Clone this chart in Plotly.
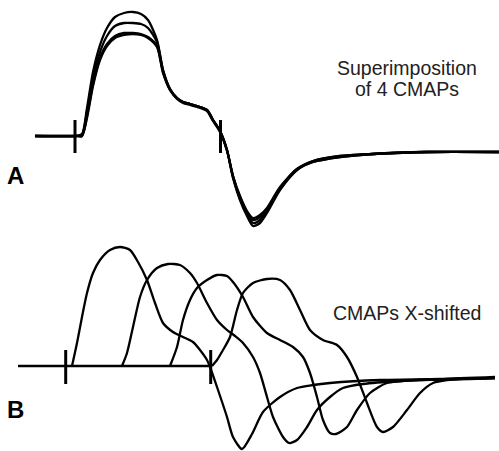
import plotly.graph_objects as go

# ---------------- Panel A: superimposition of 4 CMAPs ----------------
a_time = [35, 76, 82, 87, 93, 100, 107, 115, 124, 133, 141, 148, 157, 163, 170, 177,
          183, 190, 197, 207, 213, 220, 227, 233, 240, 247, 253, 260, 267, 280, 297,
          313, 340, 373, 427, 499]
a_cmap1 = [0, 0, 2, 28, 64, 91, 108, 119, 123, 124, 122, 116, 96, 66, 47, 38, 34, 32, 30, 26,
           16, 5, -14, -42, -64, -80, -90, -87, -77, -54, -34, -26, -21, -18, -16, -16]
a_cmap2 = [0, 0, 1, 24, 58, 84, 100, 110, 113, 113, 112, 108, 94, 66, 47, 38, 34, 32, 30, 26,
           16, 5, -14, -41, -63, -78, -87, -84, -75, -53, -34, -26, -21, -18, -16, -16]
a_cmap3 = [0, 0, 0, 20, 52, 78, 92, 100, 103, 103, 102, 99, 90, 64, 46, 38, 34, 32, 30, 26,
           16, 5, -14, -40, -61, -76, -84, -81, -73, -52, -33, -25, -20, -18, -16, -16]
a_cmap4 = [0, 0, 0, 18, 50, 76, 90, 98, 101, 102, 101, 98, 89, 63, 46, 37, 33, 31, 29, 25,
           15, 4, -15, -40, -60, -75, -82, -79, -72, -51, -33, -25, -20, -18, -16, -16]
a_marks = [75, 220.5]
a_mark_span = [16, -17]

# ---------------- Panel B: CMAPs X-shifted ----------------
b_base_time = [18, 212]
b_base_amp = [0, 0]
b1_time = [72, 77, 82, 87, 93, 100, 110, 120, 130, 138, 147, 155, 163, 173, 183, 193, 200,
           207, 210, 217, 227, 233, 242, 252, 263, 280, 297, 313, 330, 380, 440, 495]
b1_amp = [0, 23, 49, 73, 93, 106, 116, 119, 116, 104, 86, 63, 43, 34, 29, 24, 16, 6, -1, -21,
          -51, -71, -83, -68, -46, -31, -22, -19, -17, -14, -13, -11]
b2_time = [122, 127, 133, 140, 147, 157, 168, 180, 190, 197, 207, 217, 227, 235, 243, 253,
           260, 267, 273, 283, 289, 297, 307, 317, 330, 343, 363, 400, 450, 495]
b2_amp = [0, 13, 39, 69, 86, 98, 102, 101, 93, 83, 63, 46, 36, 30, 23, 9, -7, -31, -51, -71,
          -77, -74, -61, -44, -31, -22, -18, -15, -13, -12]
b3_time = [170, 177, 183, 190, 197, 207, 217, 227, 233, 243, 253, 267, 280, 293, 303, 310,
           317, 323, 330, 336, 347, 357, 370, 387, 420, 460, 495]
b3_amp = [0, 19, 46, 66, 78, 86, 91, 90, 84, 69, 49, 33, 26, 19, 9, -7, -31, -54, -67, -68,
          -61, -44, -27, -17, -14, -13, -12]
b4_time = [212, 217, 223, 230, 237, 243, 253, 267, 280, 290, 300, 310, 323, 337, 347, 357,
           367, 377, 383, 393, 407, 420, 433, 447, 470, 495]
b4_amp = [0, 6, 16, 29, 56, 73, 83, 87, 86, 76, 56, 36, 26, 21, 9, -11, -37, -61, -66, -61,
          -44, -27, -17, -14, -13, -12]
b_marks = [65.7, 210.7]
b_mark_span = [16, -18]

fig = go.Figure()
line = dict(color="black", width=2.3, shape="spline", smoothing=0.7)

for ys in [a_cmap1, a_cmap2, a_cmap3, a_cmap4]:
    fig.add_trace(go.Scatter(x=a_time, y=ys, mode="lines", line=line,
                             xaxis="x", yaxis="y", hoverinfo="skip"))
for xm in a_marks:
    fig.add_trace(go.Scatter(x=[xm, xm], y=a_mark_span, mode="lines",
                             line=dict(color="black", width=3), xaxis="x", yaxis="y"))

fig.add_trace(go.Scatter(x=b_base_time, y=b_base_amp, mode="lines",
                         line=dict(color="black", width=2.3), xaxis="x", yaxis="y2"))
for xs, ys in [(b1_time, b1_amp), (b2_time, b2_amp), (b3_time, b3_amp), (b4_time, b4_amp)]:
    fig.add_trace(go.Scatter(x=xs, y=ys, mode="lines", line=line,
                             xaxis="x", yaxis="y2", hoverinfo="skip"))
for xm in b_marks:
    fig.add_trace(go.Scatter(x=[xm, xm], y=b_mark_span, mode="lines",
                             line=dict(color="black", width=3), xaxis="x", yaxis="y2"))

txt = dict(family="Liberation Sans, Arial, sans-serif", size=19.5, color="#222")
lab = dict(family="Liberation Sans, Arial, sans-serif", size=24, color="black")
fig.add_annotation(x=407, y=68, xref="x", yref="y", text="Superimposition",
                   showarrow=False, font=txt, yanchor="middle")
fig.add_annotation(x=407, y=47, xref="x", yref="y", text="of 4 CMAPs",
                   showarrow=False, font=txt, yanchor="middle")
fig.add_annotation(x=15, y=-39, xref="x", yref="y", text="<b>A</b>",
                   showarrow=False, font=lab, yanchor="middle")
fig.add_annotation(x=407, y=53, xref="x", yref="y2", text="CMAPs X-shifted",
                   showarrow=False, font=txt, yanchor="middle")
fig.add_annotation(x=15, y=-44, xref="x", yref="y2", text="<b>B</b>",
                   showarrow=False, font=lab, yanchor="middle")

hidden = dict(visible=False, showgrid=False, zeroline=False, fixedrange=True)
fig.update_layout(
    width=499, height=451,
    margin=dict(l=0, r=0, t=0, b=0),
    paper_bgcolor="white", plot_bgcolor="white",
    showlegend=False,
    xaxis=dict(range=[0, 499], **hidden),
    yaxis=dict(domain=[0.46785, 1], range=[-104, 136], **hidden),
    yaxis2=dict(domain=[0, 0.46785], range=[-85, 126], **hidden),
)

fig.write_html("out.html", config={"displayModeBar": False},
               post_script="document.body.style.margin='0';document.body.style.overflow='hidden';")
